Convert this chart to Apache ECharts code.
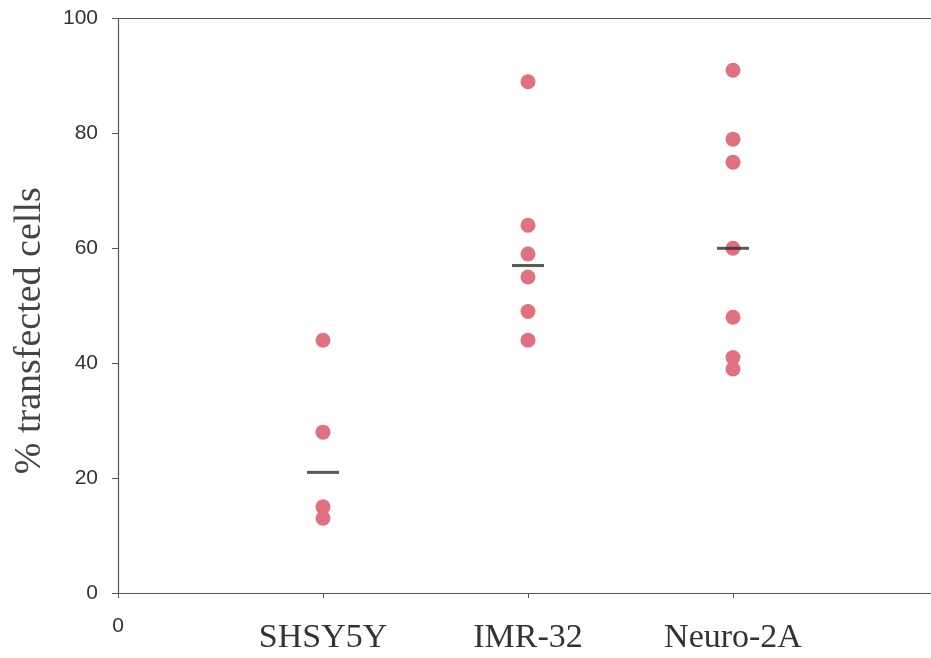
<!DOCTYPE html>
<html>
<head>
<meta charset="utf-8">
<script src="https://cdn.jsdelivr.net/npm/echarts@6/dist/echarts.min.js"></script>
<style>
html,body{margin:0;padding:0;background:#fff;}
#chart{width:931px;height:658px;}
</style>
</head>
<body>
<div id="chart"></div>
<script>
const categories = ['SHSY5Y', 'IMR-32', 'Neuro-2A'];
const shsy5yValues = [44, 28, 15, 13];
const imr32Values = [89, 64, 59, 55, 49, 44];
const neuro2aValues = [91, 79, 75, 60, 48, 41, 39];
const medians = [21, 57, 60];
const yTicks = [0, 20, 40, 60, 80, 100];

const groups = [shsy5yValues, imr32Values, neuro2aValues];
const pointData = [];
groups.forEach((vals, i) => vals.forEach(v => pointData.push([i + 1, v])));
const medianData = medians.map((m, i) => [i + 1, m]);

const chart = echarts.init(document.getElementById('chart'));
chart.setOption({
  backgroundColor: '#ffffff',
  animation: false,
  grid: {
    left: 118, right: -7, top: 18.5, bottom: 65,
    outerBoundsMode: 'none',
    containLabel: false,
    show: false
  },
  xAxis: [{
    type: 'value', min: 0, max: 4, interval: 1,
    splitLine: { show: false },
    axisLine: { show: true, lineStyle: { color: '#555', width: 1.2 } },
    axisTick: { show: true, length: 5, lineStyle: { color: '#555' } },
    axisLabel: {
      margin: 23,
      formatter: function (v) {
        if (v === 0) return '{a|0}';
        if (v >= 1 && v <= categories.length) return '{b|' + categories[v - 1] + '}';
        return '';
      },
      rich: {
        a: { fontFamily: 'Liberation Sans, Arial, sans-serif', fontSize: 21, lineHeight: 21, color: '#333' },
        b: { fontFamily: 'Liberation Serif, Times New Roman, serif', fontSize: 34, lineHeight: 34, color: '#333', padding: [10, 0, 0, 0] }
      }
    }
  }, {
    type: 'value', position: 'top', min: 0, max: 4,
    splitLine: { show: false },
    axisLine: { show: true, lineStyle: { color: '#555', width: 1.2 } },
    axisTick: { show: false },
    axisLabel: { show: false }
  }],
  yAxis: {
    type: 'value', min: 0, max: 100, interval: 20,
    name: '% transfected cells',
    nameLocation: 'middle',
    nameGap: 69,
    nameRotate: 90,
    nameTextStyle: { fontFamily: 'Liberation Serif, Times New Roman, serif', fontSize: 38, color: '#444', padding: [0, 50, 0, 0] },
    splitLine: { show: false },
    axisLine: { show: true, lineStyle: { color: '#555', width: 1.2 } },
    axisTick: { show: true, length: 6, lineStyle: { color: '#555' } },
    axisLabel: {
      margin: 20,
      fontFamily: 'Liberation Sans, Arial, sans-serif',
      fontSize: 21, color: '#333',
      formatter: function (v) { return yTicks.indexOf(v) >= 0 ? String(v) : ''; }
    }
  },
  series: [
    {
      type: 'scatter',
      data: pointData,
      symbol: 'circle',
      symbolSize: 15,
      itemStyle: { color: '#e2717f', opacity: 1 },
      z: 2
    },
    {
      type: 'scatter',
      data: medianData,
      symbol: 'rect',
      symbolSize: [32, 3],
      itemStyle: { color: '#2e2e2e' },
      z: 3
    }
  ]
});
</script>
</body>
</html>
